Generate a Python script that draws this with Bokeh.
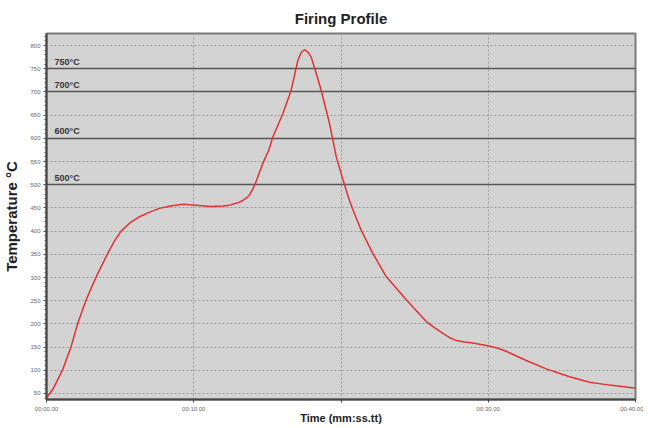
from bokeh.plotting import figure
from bokeh.models import Range1d, FixedTicker, ColumnDataSource
from bokeh.core.properties import value
from bokeh.embed import file_html
from bokeh.resources import INLINE

# ---- data ----
time_s = [0, 0.43, 1.11, 1.68, 2.13, 2.70, 3.1, 3.49, 4.16, 4.6, 5.07, 5.64,
          6.32, 7.0, 7.67, 8.4, 9.26, 10.17, 11.07, 12.0, 12.43, 13.0, 13.33,
          13.6, 13.79, 14.0, 14.19, 14.69, 15.1, 15.37, 16.05, 16.61, 17.07,
          17.3, 17.52, 17.75, 17.98, 18.3, 18.66, 19.22, 19.68, 20.0, 20.24,
          20.5, 20.81, 21.37, 22.16, 23.07, 24.43, 25.79, 26.3, 26.9, 27.4,
          27.82, 28.4, 28.95, 29.97, 30.6, 31.22, 32.58, 33.94, 35.52, 36.88,
          38.24, 39.9, 40]
temp_c = [40, 59, 102, 152, 202, 252, 282, 309, 352, 378, 400, 417,
          431, 441, 449, 454, 458, 456, 453, 454, 456, 461, 466,
          472, 478, 490, 503, 546, 575, 603, 653, 703, 768,
          785, 791, 786, 775, 742, 703, 632, 560, 525, 500,
          473, 446, 402, 352, 302, 252, 205, 193, 180, 170,
          164, 161, 159, 153, 148, 141, 121, 103, 86, 74,
          68, 62, 61]

x_ticks = [0, 10, 20, 30, 40]
x_tick_labels = ["00:00.00", "00:10.00", "", "00:30.00", "00:40.00"]
y_ticks = [50, 100, 150, 200, 250, 300, 350, 400, 450, 500, 550, 600, 650, 700, 750, 800]
thresholds = [750, 700, 600, 500]
threshold_labels = ["750°C", "700°C", "600°C", "500°C"]

FONT = "Liberation Sans"
x0, x1 = 0, 40

p = figure(frame_width=589, frame_height=366, output_backend="svg", toolbar_location=None,
           x_range=Range1d(x0, x1), y_range=Range1d(37, 826),
           title="Firing Profile",
           min_border_left=39, min_border_right=8, min_border_top=0, min_border_bottom=0)

p.background_fill_color = "#d3d3d3"
p.border_fill_color = "white"
p.outline_line_color = "#7a7a7a"
p.outline_line_width = 2

p.title.align = "center"
p.title.text_font = FONT
p.title.text_font_size = "15px"
p.title.text_font_style = "bold"
p.title.text_color = "#222222"
p.title.offset = 0
p.title.standoff = 14

# axes
p.xaxis.ticker = FixedTicker(ticks=x_ticks)
p.xaxis.major_label_overrides = {t: l for t, l in zip(x_ticks, x_tick_labels)}
p.yaxis.ticker = FixedTicker(ticks=y_ticks, minor_ticks=list(range(40, 830, 10)))
for ax in (p.xaxis, p.yaxis):
    ax.axis_line_color = "#444444"
    ax.axis_line_width = 2
    ax.major_tick_line_color = "#444444"
    ax.major_tick_out = 3
    ax.major_tick_in = 0
    ax.minor_tick_line_color = "#555555"
    ax.minor_tick_out = 2
    ax.minor_tick_in = 0
    ax.major_label_text_font = FONT
    ax.major_label_text_font_size = "6px"
    ax.major_label_text_color = "#666666"
    ax.major_label_standoff = 2
    ax.axis_label_text_font = FONT
    ax.axis_label_text_font_style = "bold"
    ax.axis_label_text_color = "#222222"
p.xaxis.minor_tick_line_color = None
p.xaxis.major_label_standoff = 3
p.xaxis.axis_label = "Time (mm:ss.tt)"
p.xaxis.axis_label_text_font_size = "11px"
p.xaxis.axis_label_standoff = -3
p.yaxis.major_label_standoff = 3
p.yaxis.axis_label = "Temperature °C"
p.yaxis.axis_label_text_font_size = "15px"
p.yaxis.axis_label_standoff = 7

# grids
for g in (p.xgrid, p.ygrid):
    g.grid_line_color = "#9a9a9a"
    g.grid_line_dash = "2 2"
    g.grid_line_width = 1

# threshold lines
p.hspan(y=thresholds, line_color="#555555", line_width=1.6)
src = ColumnDataSource(dict(x=[x0 + 0.55] * len(thresholds), y=thresholds,
                            text=threshold_labels))
p.text(x="x", y="y", text="text", source=src, text_font=value(FONT),
       text_font_size="9px", text_font_style="bold", text_color="#333333",
       text_baseline="alphabetic", y_offset=-7)

# profile curve
p.line(time_s, temp_c, line_color="#e03232", line_width=1.5)

open("out.html", "w").write(file_html(p, INLINE))
